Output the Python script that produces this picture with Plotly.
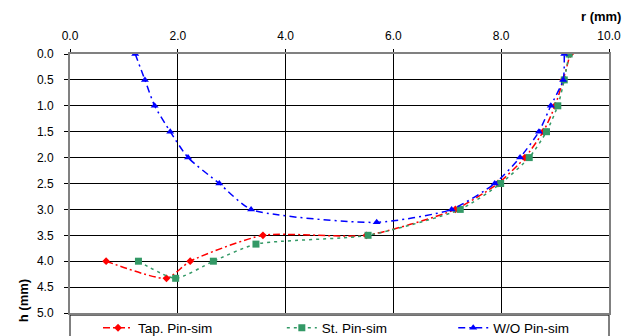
import plotly.graph_objects as go

# Data (r in mm, h in mm)
tap_r = [0.67, 1.79, 2.23, 3.58, 5.50, 7.15, 7.94, 8.44, 8.78, 9.00, 9.15, 9.28]
tap_h = [4.0, 4.33, 4.0, 3.5, 3.5, 3.0, 2.5, 2.0, 1.5, 1.0, 0.5, 0.0]
st_r = [1.27, 1.96, 2.66, 3.45, 5.53, 7.24, 7.99, 8.52, 8.84, 9.05, 9.17, 9.26]
st_h = [4.0, 4.33, 4.0, 3.67, 3.5, 3.0, 2.5, 2.0, 1.5, 1.0, 0.5, 0.0]
wo_r = [1.21, 1.39, 1.57, 1.86, 2.19, 2.77, 3.36, 5.69, 7.08, 7.88, 8.35, 8.70, 8.92, 9.15, 9.17]
wo_h = [0.0, 0.5, 1.0, 1.5, 2.0, 2.5, 3.0, 3.25, 3.0, 2.5, 2.0, 1.5, 1.0, 0.5, 0.0]

x_ticks = [0, 2, 4, 6, 8, 10]
y_ticks = [0.0, 0.5, 1.0, 1.5, 2.0, 2.5, 3.0, 3.5, 4.0, 4.5, 5.0]

FAM = "Liberation Sans, Arial, sans-serif"

fig = go.Figure()
fig.add_trace(go.Scatter(
    x=tap_r, y=tap_h, name="Tap. Pin-sim", mode="lines+markers", legend="legend",
    line=dict(color="#ff0000", width=1.5, dash="7px,3px,2px,3px", shape="spline", smoothing=0.6),
    marker=dict(symbol="diamond", size=6, color="#ff0000")))
fig.add_trace(go.Scatter(
    x=st_r, y=st_h, name="St. Pin-sim", mode="lines+markers", legend="legend2",
    line=dict(color="#339966", width=1.5, dash="3px,4px", shape="spline", smoothing=0.6),
    marker=dict(symbol="square", size=7, color="#339966")))
fig.add_trace(go.Scatter(
    x=wo_r, y=wo_h, name="W/O Pin-sim", mode="lines+markers", legend="legend3",
    line=dict(color="#0000ff", width=1.5, dash="7px,4px,2px,4px", shape="spline", smoothing=0.6),
    marker=dict(symbol="triangle-up", size=7, color="#0000ff")))

def leg(xp):
    return dict(
        orientation="h", x=xp, xanchor="left", y=0.002, yanchor="top",
        bgcolor="rgba(0,0,0,0)", borderwidth=0,
        font=dict(family=FAM, size=13.5, color="#000000"),
        itemsizing="trace",
    )

fig.update_layout(
    width=636, height=336,
    margin=dict(l=70, r=27, t=54, b=23, autoexpand=False),
    paper_bgcolor="white", plot_bgcolor="white",
    font=dict(family=FAM, size=12, color="#000000"),
    showlegend=True,
    legend=leg(0.052),
    legend2=leg(0.393),
    legend3=leg(0.711),
    xaxis=dict(
        side="top", range=[0, 10], tickvals=x_ticks, tickformat=".1f",
        showgrid=True, gridcolor="#000000", gridwidth=1,
        showline=True, linecolor="#808080", linewidth=2, mirror=True,
        ticks="outside", ticklen=3, tickcolor="#000000",
        ticklabelstandoff=4,
        zeroline=False, fixedrange=True,
    ),
    yaxis=dict(
        range=[5, 0], tickvals=y_ticks, tickformat=".1f",
        showgrid=True, gridcolor="#000000", gridwidth=1,
        showline=True, linecolor="#808080", linewidth=2, mirror=True,
        ticks="outside", ticklen=4, tickcolor="#000000",
        ticklabelstandoff=8,
        zeroline=False, fixedrange=True,
    ),
    shapes=[
        dict(type="rect", xref="paper", yref="paper", x0=0.0, x1=1.0,
             y0=-0.008, y1=-0.2, line=dict(color="#000000", width=1),
             fillcolor="rgba(0,0,0,0)", layer="below"),
    ],
    annotations=[
        dict(text="<b>r (mm)</b>", xref="paper", yref="paper", x=0.985, y=1.146,
             xanchor="center", yanchor="middle", showarrow=False,
             font=dict(family=FAM, size=13)),
        dict(text="<b>h (mm)</b>", xref="paper", yref="paper", x=-0.087, y=0.046,
             xanchor="center", yanchor="middle", showarrow=False, textangle=-90,
             font=dict(family=FAM, size=13)),
    ],
)

fig.write_html("out.html")
